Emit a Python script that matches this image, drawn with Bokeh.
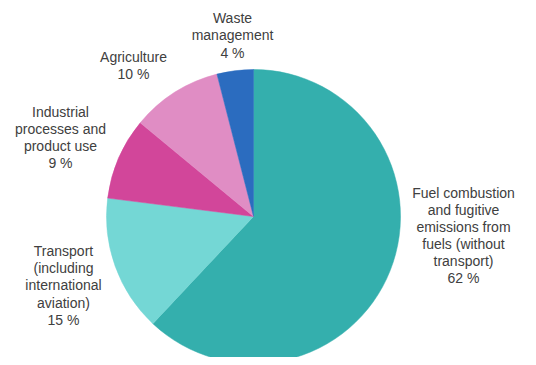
import math
from bokeh.plotting import figure
from bokeh.models import Range1d, ColumnDataSource
from bokeh.core.properties import value
from bokeh.embed import file_html
from bokeh.resources import INLINE

# ---- data ----
categories = [
    "Fuel combustion\nand fugitive\nemissions from\nfuels (without\ntransport)",
    "Transport\n(including\ninternational\naviation)",
    "Industrial\nprocesses and\nproduct use",
    "Agriculture",
    "Waste\nmanagement",
]
shares = [62, 15, 9, 10, 4]
colors = ["#34AFAD", "#74D7D5", "#D2469A", "#E08DC4", "#2B6CBF"]

# ---- layout (pixel space of the figure) ----
W, H = 520, 357
CX, CY = 253, 216          # pie centre (from top-left)
R = 147
# label centres, from top-left of the figure
label_pos = [(463, 235), (63, 285), (60, 137), (133, 65), (232, 35)]

total = float(sum(shares))
starts, ends = [], []
cum = 0.0
for s in shares:
    starts.append(math.pi / 2 - 2 * math.pi * cum / total)
    cum += s
    ends.append(math.pi / 2 - 2 * math.pi * cum / total)

p = figure(width=W, height=H, output_backend="svg", toolbar_location=None,
           x_range=Range1d(0, W), y_range=Range1d(0, H),
           min_border=0, outline_line_color=None)
p.axis.visible = False
p.grid.visible = False
p.background_fill_color = "white"
p.border_fill_color = "white"

wsrc = ColumnDataSource(dict(x=[CX] * len(shares), y=[H - CY] * len(shares),
                             start=starts, end=ends, color=colors))
p.wedge(x="x", y="y", radius=R, start_angle="start", end_angle="end",
        direction="clock", fill_color="color", line_color="color",
        line_width=0.5, source=wsrc)

labels = [f"{c}\n{v} %" for c, v in zip(categories, shares)]
lsrc = ColumnDataSource(dict(x=[lp[0] for lp in label_pos],
                             y=[H - lp[1] for lp in label_pos],
                             text=labels))
p.text(x="x", y="y", text="text", source=lsrc,
       text_font=value("Liberation Sans"), text_font_size="14px",
       text_color="#404040", text_align="center", text_baseline="middle",
       text_line_height=1.07)

open("out.html", "w").write(file_html(p, INLINE))
